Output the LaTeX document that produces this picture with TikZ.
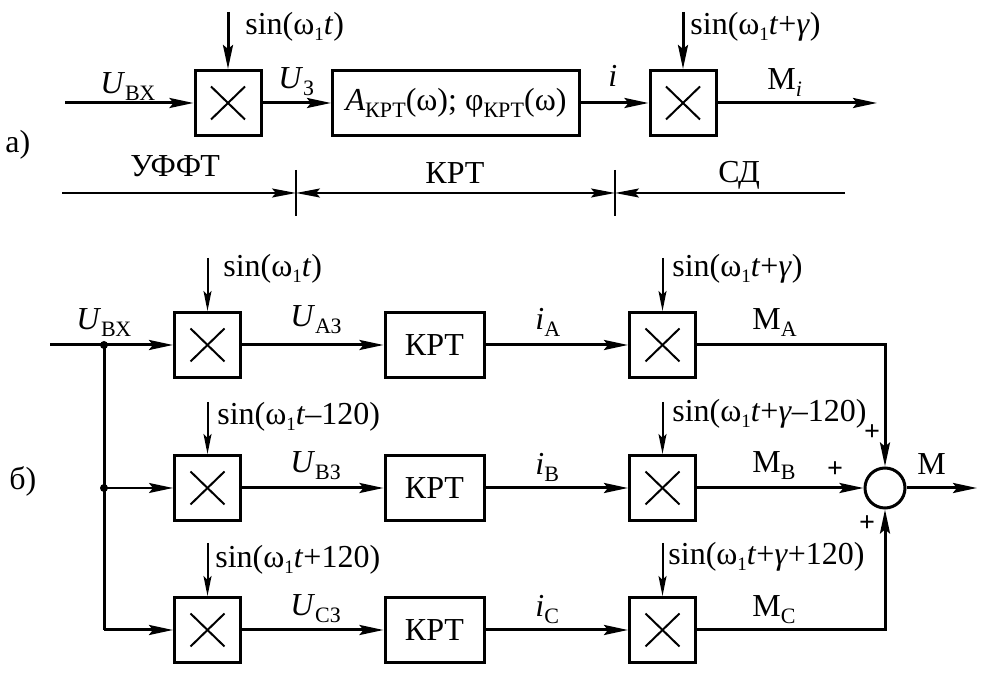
\documentclass[tikz,border=0pt]{standalone}
\usepackage{fontspec}
\setmainfont{Liberation Serif}
\usetikzlibrary{arrows.meta,calc,positioning}
\newcommand{\sbs}[1]{\raisebox{-3.5pt}{\fontsize{11}{11}\selectfont #1}}
\newcommand{\omi}{ω\raisebox{-3pt}{\fontsize{9.5}{9.5}\selectfont 1}}
\tikzset{
  mult/.style={draw, line width=1.5pt, minimum width=33pt, minimum height=32.5pt, inner sep=0pt,
    path picture={
      \draw[line width=1pt] ([shift={(8pt,8pt)}]path picture bounding box.south west) -- ([shift={(-8pt,-8pt)}]path picture bounding box.north east);
      \draw[line width=1pt] ([shift={(8pt,-8pt)}]path picture bounding box.north west) -- ([shift={(-8pt,8pt)}]path picture bounding box.south east);}},
  block/.style={draw, line width=1.5pt, minimum height=32.5pt, inner sep=0pt},
  sumnode/.style={draw, circle, line width=1.5pt, minimum size=20pt, inner sep=0pt},
  sigline/.style={line width=1.5pt, -{Stealth[length=12pt,width=5pt,inset=2pt]}},
  refline/.style={line width=1pt, -{Stealth[length=10pt,width=4pt,inset=2pt]}},
  dimline/.style={line width=1pt, -{Stealth[length=12pt,width=4.5pt,inset=2pt]}},
  dimboth/.style={line width=1pt, {Stealth[length=12pt,width=4.5pt,inset=2pt]}-{Stealth[length=12pt,width=4.5pt,inset=2pt]}},
  lbl/.style={anchor=base west, inner sep=0pt},
  plus/.style={inner sep=0pt, font=\bfseries\fontsize{14}{14}\selectfont},
}
\begin{document}
\begin{tikzpicture}[x=0.5pt,y=-0.5pt,font=\fontsize{16}{19}\selectfont]
  \useasboundingbox (0,0) rectangle (986,688);

  % panel a: blocks
  \node[mult] (am1) at (228,103) {};
  \node[block, minimum width=123.5pt] (akrt) at (456,103) {\textit{A}\sbs{КРТ}(ω); φ\sbs{КРТ}(ω)};
  \node[mult] (am2) at (683,103) {};
  \coordinate (ain) at (65,103);
  \coordinate (aout) at (877,103);
  \coordinate (as1) at (228,12);
  \coordinate (as2) at (683,12);

  % panel a: connectors
  \draw[sigline] (ain) -- (am1);
  \draw[sigline] (am1) -- (akrt);
  \draw[sigline] (akrt) -- (am2);
  \draw[sigline] (am2) -- (aout);
  \draw[sigline] (as1) -- (am1);
  \draw[sigline] (as2) -- (am2);

  % panel a: labels
  \node[lbl] (la) at (5,153) {а)};
  \node[lbl] (laUvx) at (100,94) {\textit{U}\sbs{ВХ}};
  \node[lbl] (las1) at (245,35) {sin(\omi\textit{t})};
  \node[lbl] (laUz) at (278,89) {\textit{U}\sbs{З}};
  \node[lbl] (lai) at (608,87) {\textit{i}};
  \node[lbl] (las2) at (690,35) {sin(\omi\textit{t}+\textit{γ})};
  \node[lbl] (laM) at (767,90) {М\sbs{\textit{i}}};

  % panel a: sections
  \coordinate (d0) at (62,193);
  \coordinate (t1) at (296,193);
  \coordinate (t2) at (615,193);
  \coordinate (d3) at (845,193);
  \draw[dimline] (d0) -- (t1);
  \draw[dimboth] (t1) -- (t2);
  \draw[dimline] (d3) -- (t2);
  \draw[line width=1pt] (t1) ++(0,-23) -- ++(0,46);
  \draw[line width=1pt] (t2) ++(0,-23) -- ++(0,46);
  \node[lbl] (lsec1) at (130,177) {УФФТ};
  \node[anchor=base, inner sep=0pt] (lsec2) at (455,184) {КРТ};
  \node[lbl] (lsec3) at (718,183) {СД};

  % panel b: blocks
  \node[mult] (bmA) at (207.5,345) {};
  \node[block, minimum width=49.5pt] (bkA) at (434.5,345) {КРТ};
  \node[mult] (bnA) at (662.5,345) {};
  \node[mult] (bmB) at (207.5,488) {};
  \node[block, minimum width=49.5pt] (bkB) at (434.5,488) {КРТ};
  \node[mult] (bnB) at (662.5,488) {};
  \node[mult] (bmC) at (207.5,630) {};
  \node[block, minimum width=49.5pt] (bkC) at (434.5,630) {КРТ};
  \node[mult] (bnC) at (662.5,630) {};
  \node[sumnode] (sum) at (885,488) {};

  \coordinate (bin) at (50,345);
  \coordinate (jA) at (104,345);
  \coordinate (jB) at (104,488);
  \coordinate (jC) at (104,630);
  \coordinate (bout) at (977,488);
  \coordinate (bsA) at (207.5,258);
  \coordinate (bsB) at (207.5,402);
  \coordinate (bsC) at (207.5,543);
  \coordinate (btA) at (662.5,258);
  \coordinate (btB) at (662.5,402);
  \coordinate (btC) at (662.5,543);

  % panel b: connectors
  \draw[line width=1.5pt] (bin) -- (jA);
  \draw[line width=1.5pt] (jA) -- (jC);
  \draw[sigline] (jA) -- (bmA);
  \draw[sigline, line width=1pt] (jB) -- (bmB);
  \draw[sigline] (jC) -- (bmC);
  \fill (jA) circle (2pt);
  \fill (jB) circle (2pt);
  \draw[sigline] (bmA) -- (bkA);
  \draw[sigline] (bkA) -- (bnA);
  \draw[sigline] (bmB) -- (bkB);
  \draw[sigline] (bkB) -- (bnB);
  \draw[sigline] (bmC) -- (bkC);
  \draw[sigline] (bkC) -- (bnC);
  \draw[sigline] (bnA) -| (sum);
  \draw[sigline] (bnB) -- (sum);
  \draw[sigline] (bnC) -| (sum);
  \draw[sigline] (sum) -- (bout);
  \draw[refline] (bsA) -- (bmA);
  \draw[refline] (bsB) -- (bmB);
  \draw[refline] (bsC) -- (bmC);
  \draw[refline] (btA) -- (bnA);
  \draw[refline] (btB) -- (bnB);
  \draw[refline] (btC) -- (bnC);

  % panel b: labels
  \node[lbl] (lb) at (9,490) {б)};
  \node[lbl] (lbUvx) at (76,330) {\textit{U}\sbs{ВХ}};
  \node[lbl] (lbsA) at (223,277) {sin(\omi\textit{t})};
  \node[lbl] (lbsB) at (217,425) {sin(\omi\textit{t}–120)};
  \node[lbl] (lbsC) at (215,568) {sin(\omi\textit{t}+120)};
  \node[lbl] (lbUA) at (290,327) {\textit{U}\sbs{АЗ}};
  \node[lbl] (lbUB) at (290,473) {\textit{U}\sbs{ВЗ}};
  \node[lbl] (lbUC) at (290,616) {\textit{U}\sbs{СЗ}};
  \node[lbl] (lbiA) at (535,330) {\textit{i}\sbs{А}};
  \node[lbl] (lbiB) at (535,475) {\textit{i}\sbs{В}};
  \node[lbl] (lbiC) at (535,617) {\textit{i}\sbs{С}};
  \node[lbl] (lbtA) at (672,277) {sin(\omi\textit{t}+\textit{γ})};
  \node[lbl] (lbtB) at (672,422) {sin(\omi\textit{t}+\textit{γ}–120)};
  \node[lbl] (lbtC) at (668,565) {sin(\omi\textit{t}+\textit{γ}+120)};
  \node[lbl] (lbMA) at (752,330) {М\sbs{А}};
  \node[lbl] (lbMB) at (752,473) {М\sbs{В}};
  \node[lbl] (lbMC) at (752,617) {М\sbs{С}};
  \node[lbl] (lbM) at (917,475) {М};
  \node[plus] (pA) at (872,433) {+};
  \node[plus] (pB) at (835,470) {+};
  \node[plus] (pC) at (867,524) {+};
\end{tikzpicture}
\end{document}
